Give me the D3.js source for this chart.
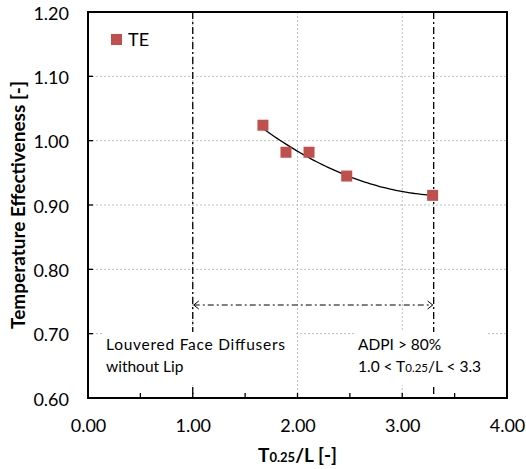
<!DOCTYPE html>
<html>
<head>
<meta charset="utf-8">
<script src="https://cdn.jsdelivr.net/npm/d3@7/dist/d3.min.js"></script>
<style>
  html, body { margin: 0; padding: 0; background: #fff; }
  svg { display: block; font-family: Lato, "Open Sans", sans-serif; }
</style>
</head>
<body>
<svg id="chart" width="526" height="469"></svg>
<script>
// Measured temperature effectiveness vs throw ratio
const seriesName = "TE";
const throwRatio = [1.67, 1.89, 2.11, 2.47, 3.29];
const teValues = [1.024, 0.982, 0.982, 0.945, 0.915];

const xTicks = [0, 1, 2, 3, 4];
const xMinorTicks = [0.5, 1.5, 2.5, 3.5];
const yTicks = [0.6, 0.7, 0.8, 0.9, 1.0, 1.1, 1.2];
const adpiRange = [1.0, 3.3];

const svg = d3.select("#chart");
const plot = { left: 88, right: 507, top: 12, bottom: 398 };

const x = d3.scaleLinear().domain([0, 4]).range([plot.left, plot.right]);
const y = d3.scaleLinear().domain([0.6, 1.2]).range([plot.bottom, plot.top]);

// Gridlines (dotted grey)
const grid = svg.append("g");
grid.selectAll("line.gx").data(xTicks.slice(1, -1)).join("line")
  .attr("x1", d => x(d)).attr("x2", d => x(d))
  .attr("y1", plot.top).attr("y2", plot.bottom)
  .attr("stroke", "#bdbdbd").attr("stroke-width", 1).attr("stroke-dasharray", "2,2");
grid.selectAll("line.gy").data(yTicks.slice(1, -1)).join("line")
  .attr("x1", plot.left).attr("x2", plot.right)
  .attr("y1", d => y(d)).attr("y2", d => y(d))
  .attr("stroke", "#bdbdbd").attr("stroke-width", 1).attr("stroke-dasharray", "2,2");

// ADPI range boundaries (dash-dot)
svg.append("g").selectAll("line").data(adpiRange).join("line")
  .attr("x1", d => x(d)).attr("x2", d => x(d))
  .attr("y1", plot.top).attr("y2", plot.bottom)
  .attr("stroke", "#000").attr("stroke-width", 1.3).attr("stroke-dasharray", "7,3,2,3");

// Double-headed range arrow
const arrowY = 305;
svg.append("line")
  .attr("x1", x(adpiRange[0]) + 1).attr("x2", x(adpiRange[1]) - 1)
  .attr("y1", arrowY).attr("y2", arrowY)
  .attr("stroke", "#000").attr("stroke-width", 1).attr("stroke-dasharray", "6,3,2,3");
const head = 6;
svg.append("path")
  .attr("d", `M${x(adpiRange[0]) + head},${arrowY - 4} L${x(adpiRange[0]) + 1},${arrowY} L${x(adpiRange[0]) + head},${arrowY + 4}`)
  .attr("fill", "none").attr("stroke", "#000").attr("stroke-width", 1);
svg.append("path")
  .attr("d", `M${x(adpiRange[1]) - head},${arrowY - 4} L${x(adpiRange[1]) - 1},${arrowY} L${x(adpiRange[1]) - head},${arrowY + 4}`)
  .attr("fill", "none").attr("stroke", "#000").attr("stroke-width", 1);

// Annotation boxes (white fill hides grid beneath)
svg.append("rect").attr("x", 104).attr("y", 332).attr("width", 191).attr("height", 53).attr("fill", "#fff");
svg.append("rect").attr("x", 356).attr("y", 332).attr("width", 131).attr("height", 53).attr("fill", "#fff");

const ann = svg.append("g").attr("font-size", 15.5).attr("fill", "#000");
ann.append("text").attr("x", 106).attr("y", 350).attr("textLength", 179).text("Louvered Face Diffusers");
ann.append("text").attr("x", 106).attr("y", 372).text("without Lip");
ann.append("text").attr("x", 358).attr("y", 350).text("ADPI > 80%");
const rangeText = ann.append("text").attr("x", 358).attr("y", 372);
rangeText.append("tspan").text("1.0 < T");
rangeText.append("tspan").attr("font-size", 11.5).text("0.25");
rangeText.append("tspan").text("/L < 3.3");

// Quadratic least-squares trendline through the data
function quadFit(xs, ys) {
  const n = xs.length;
  let s = [0, 0, 0, 0, 0], t = [0, 0, 0];
  for (let i = 0; i < n; i++) {
    for (let k = 0; k < 5; k++) s[k] += Math.pow(xs[i], k);
    for (let k = 0; k < 3; k++) t[k] += ys[i] * Math.pow(xs[i], k);
  }
  const A = [[s[0], s[1], s[2], t[0]], [s[1], s[2], s[3], t[1]], [s[2], s[3], s[4], t[2]]];
  for (let i = 0; i < 3; i++) {
    for (let j = i + 1; j < 3; j++) {
      const f = A[j][i] / A[i][i];
      for (let k = i; k < 4; k++) A[j][k] -= f * A[i][k];
    }
  }
  const c = [0, 0, 0];
  for (let i = 2; i >= 0; i--) {
    let v = A[i][3];
    for (let k = i + 1; k < 3; k++) v -= A[i][k] * c[k];
    c[i] = v / A[i][i];
  }
  return v => c[0] + c[1] * v + c[2] * v * v;
}
const fit = quadFit(throwRatio, teValues);
const x0 = d3.min(throwRatio), x1 = d3.max(throwRatio);
const curvePts = d3.range(0, 61).map(i => x0 + (x1 - x0) * i / 60);
svg.append("path")
  .attr("d", d3.line().x(d => x(d)).y(d => y(fit(d)))(curvePts))
  .attr("fill", "none").attr("stroke", "#000").attr("stroke-width", 1.3);

// Data markers
const ms = 11;
svg.append("g").selectAll("rect").data(throwRatio).join("rect")
  .attr("x", d => x(d) - ms / 2)
  .attr("y", (d, i) => y(teValues[i]) - ms / 2)
  .attr("width", ms).attr("height", ms)
  .attr("fill", "#c0504d");

// Axes with inward ticks
const xAxis = svg.append("g").attr("transform", `translate(0,${plot.bottom})`)
  .call(d3.axisBottom(x).tickValues(xTicks).tickSize(0).tickFormat(d3.format(".2f")).tickPadding(21));
svg.append("g").selectAll("line").data(xMinorTicks.concat(xTicks)).join("line")
  .attr("x1", d => x(d)).attr("x2", d => x(d))
  .attr("y1", plot.bottom).attr("y2", plot.bottom - 5)
  .attr("stroke", "#000").attr("stroke-width", 1.3);
const yAxis = svg.append("g").attr("transform", `translate(${plot.left},1.5)`)
  .call(d3.axisLeft(y).tickValues(yTicks).tickSize(0).tickFormat(d3.format(".2f")).tickPadding(19));
svg.append("g").selectAll("line").data(yTicks).join("line")
  .attr("x1", plot.left).attr("x2", plot.left + 5)
  .attr("y1", d => y(d)).attr("y2", d => y(d))
  .attr("stroke", "#000").attr("stroke-width", 1.3);
[xAxis, yAxis].forEach(a => {
  a.select(".domain").remove();
  a.selectAll("text").attr("font-size", 18).attr("fill", "#000")
    .style("font-family", "Lato, sans-serif");
});

// Plot frame
svg.append("rect")
  .attr("x", plot.left).attr("y", plot.top)
  .attr("width", plot.right - plot.left).attr("height", plot.bottom - plot.top)
  .attr("fill", "none").attr("stroke", "#000").attr("stroke-width", 2);

// Axis titles
const xTitle = svg.append("text")
  .attr("x", (plot.left + plot.right) / 2).attr("y", 462)
  .attr("text-anchor", "middle").attr("font-size", 19).attr("font-weight", "bold");
xTitle.append("tspan").text("T");
xTitle.append("tspan").attr("font-size", 13).text("0.25");
xTitle.append("tspan").text("/L [-]");

svg.append("text")
  .attr("transform", `translate(25,${(plot.top + plot.bottom) / 2}) rotate(-90)`)
  .attr("text-anchor", "middle").attr("font-size", 19).attr("font-weight", "bold")
  .text("Temperature Effectiveness [-]");

// Legend
svg.append("rect").attr("x", 111).attr("y", 34).attr("width", 11).attr("height", 11).attr("fill", "#c0504d");
svg.append("text").attr("x", 128).attr("y", 46).attr("font-size", 18).text(seriesName);
</script>
</body>
</html>
